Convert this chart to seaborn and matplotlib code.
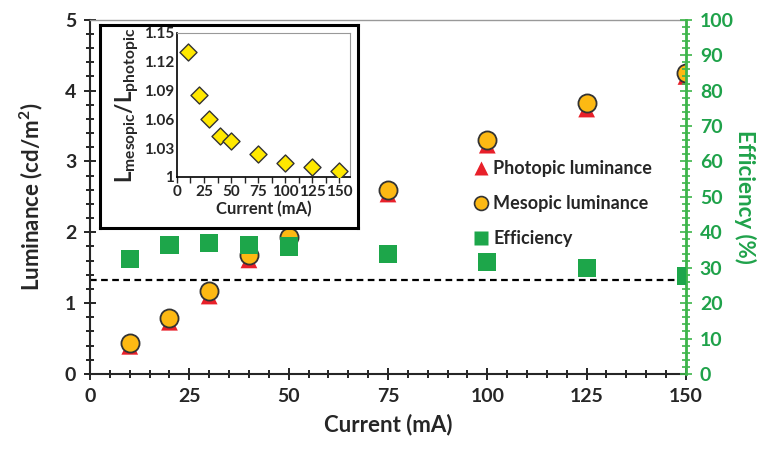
import numpy as np
import pandas as pd
import seaborn as sns
import matplotlib.pyplot as plt
from matplotlib.lines import Line2D
from matplotlib.ticker import MultipleLocator

# data
current = [10, 20, 30, 40, 50, 75, 100, 125, 150]
photopic = [0.39, 0.73, 1.10, 1.61, 1.86, 2.54, 3.23, 3.74, 4.20]
mesopic = [0.44, 0.79, 1.17, 1.68, 1.93, 2.60, 3.30, 3.83, 4.25]
efficiency = [32.5, 36.4, 37.0, 36.3, 36.0, 33.8, 31.6, 30.0, 27.7]
ratio = [1.130, 1.0855, 1.060, 1.043, 1.037, 1.024, 1.015, 1.010, 1.006]
threshold = 1.33

df = pd.DataFrame({'current': current, 'photopic': photopic,
                   'mesopic': mesopic, 'efficiency': efficiency, 'ratio': ratio})

RED = '#E8202A'
ORANGE = '#FDB913'
GREEN = '#1DA64A'
AXGREEN = '#3DB54A'
TXTGREEN = '#1FA24A'
YELLOW = '#FFE800'

sns.set_style('ticks')
plt.rcParams['font.family'] = ['Lato', 'DejaVu Sans']
plt.rcParams['font.weight'] = 'bold'
plt.rcParams['mathtext.fontset'] = 'custom'
plt.rcParams['mathtext.bf'] = 'Lato:bold'
plt.rcParams['mathtext.rm'] = 'Lato:bold'

fig = plt.figure(figsize=(7.66, 4.5), dpi=100)
ax = fig.add_axes([0.1175, 0.169, 0.778, 0.787])

ax.axhline(threshold, color='black', ls=(0, (3, 2)), lw=1.6, zorder=1)
sns.scatterplot(data=df, x='current', y='photopic', marker='^', s=145, color=RED,
                edgecolor='none', ax=ax, zorder=3)
sns.scatterplot(data=df, x='current', y='mesopic', marker='o', s=170, color=ORANGE,
                edgecolor='#333333', linewidth=1.3, ax=ax, zorder=4)
ax.set_xlim(0, 150)
ax.set_ylim(0, 5)
ax.xaxis.set_major_locator(MultipleLocator(25))
ax.xaxis.set_minor_locator(MultipleLocator(5))
ax.yaxis.set_major_locator(MultipleLocator(1))
ax.yaxis.set_minor_locator(MultipleLocator(0.2))
ax.tick_params(axis='both', which='both', direction='inout', color='black', width=1.2)
ax.tick_params(axis='both', which='major', length=8, labelsize=14, pad=6)
ax.tick_params(axis='both', which='minor', length=6)
for lab in ax.get_xticklabels() + ax.get_yticklabels():
    lab.set_fontweight('bold')
ax.set_xlabel('Current (mA)', fontsize=16, fontweight='bold', labelpad=6)
ax.set_ylabel('Luminance (cd/m$^\\mathbf{2}$)', fontsize=16, fontweight='bold', labelpad=14)
ax.spines['left'].set_linewidth(1.5)
ax.spines['bottom'].set_linewidth(1.5)
ax.spines['top'].set_color('#999999')
ax.spines['top'].set_linewidth(1.0)

ax2 = ax.twinx()
sns.scatterplot(data=df, x='current', y='efficiency', marker='s', s=170, color=GREEN,
                edgecolor='none', ax=ax2, zorder=5)
ax2.set_ylim(0, 100)
ax2.set_xlim(0, 150)
ax2.yaxis.set_major_locator(MultipleLocator(10))
ax2.yaxis.set_minor_locator(MultipleLocator(2))
ax2.tick_params(axis='y', which='both', direction='inout', color=AXGREEN, width=1.2,
                labelcolor=TXTGREEN)
ax2.tick_params(axis='y', which='major', length=8, labelsize=14, pad=6)
ax2.tick_params(axis='y', which='minor', length=6)
for lab in ax2.get_yticklabels():
    lab.set_fontweight('bold')
ax2.set_ylabel('Efficiency (%)', fontsize=16, fontweight='bold', color=TXTGREEN,
               rotation=270, labelpad=16)
ax2.spines['right'].set_color(AXGREEN)
ax2.spines['right'].set_linewidth(2)
for s in ['left', 'top', 'bottom']:
    ax2.spines[s].set_visible(False)

handles = [
    Line2D([], [], ls='none', marker='^', ms=10, color=RED, mec='none'),
    Line2D([], [], ls='none', marker='o', ms=10, color=ORANGE, mec='#333333', mew=1.2),
    Line2D([], [], ls='none', marker='s', ms=10, color=GREEN, mec='none'),
]
ax2.legend(handles, ['Photopic luminance', 'Mesopic luminance', 'Efficiency'],
           loc='upper left', bbox_to_anchor=(0.605, 0.66), bbox_transform=fig.transFigure,
           frameon=False, handletextpad=0.05, labelspacing=1.0, borderaxespad=0,
           prop={'size': 13, 'weight': 'bold'}, handlelength=1.2)

# inset with white frame
box = fig.add_axes([0.1305, 0.4933, 0.337, 0.452])
box.set_xticks([])
box.set_yticks([])
box.set_facecolor('white')
for s in box.spines.values():
    s.set_linewidth(2.2)
    s.set_color('black')
box.set_zorder(10)

ins = fig.add_axes([0.231, 0.6067, 0.226, 0.32])
ins.set_zorder(11)
sns.scatterplot(data=df, x='current', y='ratio', marker='D', s=75, color=YELLOW,
                edgecolor='#333333', linewidth=1.0, ax=ins, zorder=3)
ins.set_xlim(0, 160)
ins.set_ylim(1, 1.15)
ins.set_xticks([0, 25, 50, 75, 100, 125, 150])
ins.set_yticks([1, 1.03, 1.06, 1.09, 1.12, 1.15])
ins.set_yticklabels(['1', '1.03', '1.06', '1.09', '1.12', '1.15'])
ins.xaxis.set_minor_locator(MultipleLocator(12.5))
ins.tick_params(axis='both', which='major', labelsize=11, length=4, width=1, pad=2)
ins.tick_params(axis='x', which='minor', length=4, width=1)
ins.tick_params(axis='y', length=0)
for lab in ins.get_xticklabels() + ins.get_yticklabels():
    lab.set_fontweight('bold')
for s in ['top', 'right']:
    ins.spines[s].set_color('#999999')
    ins.spines[s].set_linewidth(0.8)
for s in ['left', 'bottom']:
    ins.spines[s].set_color('black')
    ins.spines[s].set_linewidth(1.2)
ins.set_xlabel('Current (mA)', fontsize=12, fontweight='bold', labelpad=1)
ins.set_ylabel(r'$\mathbf{L_{mesopic}/L_{photopic}}$', fontsize=16, labelpad=2)

fig.savefig('out.png', dpi=100)
